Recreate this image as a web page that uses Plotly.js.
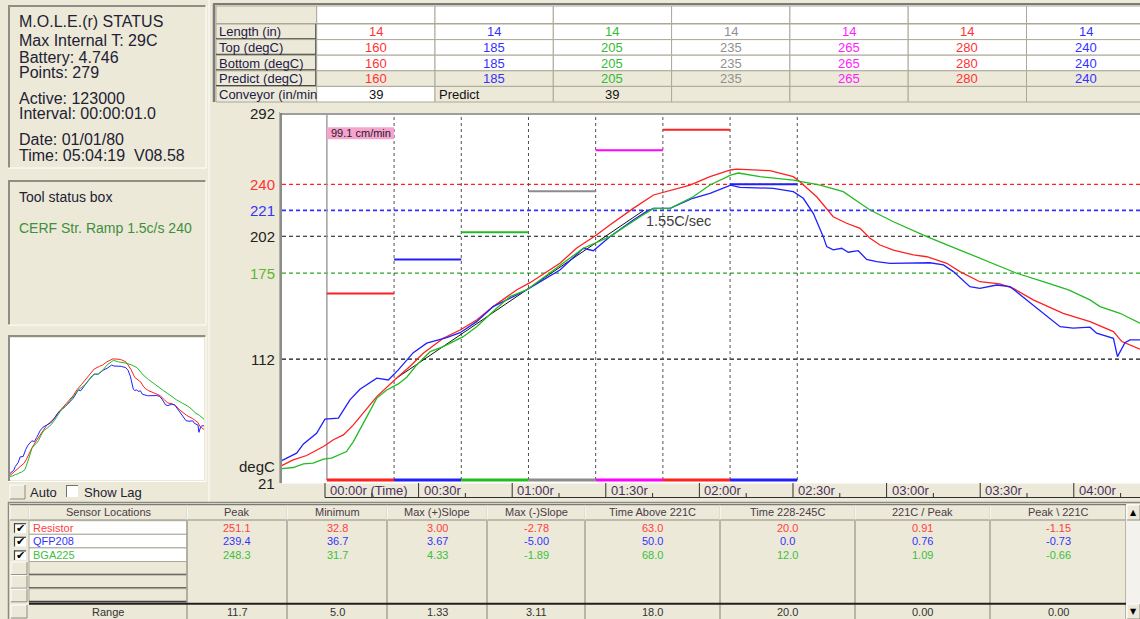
<!DOCTYPE html>
<html><head><meta charset="utf-8">
<script src="https://cdn.plot.ly/plotly-3.0.1.min.js"></script>
<style>html,body{margin:0;padding:0;background:#ECE9D8;overflow:hidden}#chart{width:1140px;height:619px}</style>
</head><body><div id="chart"></div>
<script>
// ================= DATA =================
const zoneLengthIn = [14,14,14,14,14,14,14];
const zoneTopC     = [160,185,205,235,265,280,240];
const zoneBottomC  = [160,185,205,235,265,280,240];
const zonePredictC = [160,185,205,235,265,280,240];
const conveyorInMin = 39;
const predictConveyorInMin = 39;
const zoneStartSec = 0.6;
const tableRowLabels = ['Length (in)','Top (degC)','Bottom (degC)','Predict (degC)','Conveyor (in/min'];

const statusLines = ['M.O.L.E.(r) STATUS','Max Internal T: 29C','Battery: 4.746','Points: 279',
  'Active: 123000','Interval: 00:00:01.0','Date: 01/01/80','Time: 05:04:19\u00A0 V08.58'];
const toolStatusTitle = 'Tool status box';
const toolStatusText = 'CERF Str. Ramp 1.5c/s 240';

// sensor profiles (seconds, degC)
const resistorSec = [-14.4,-10.2,-5.9,-0.5,2.7,5.9,9.1,12.3,16.6,22.9,27.2,31.5,37.9,43.3,48.6,53.9,61.4,65.7,75.3,80.6,87,91.3,98.8,105.3,112.7,117,123.4,130,131.9,142.6,150.1,152.2,157.6,162.9,167.2,171.5,174.7,177.9,182.2,188.6,192.9,199.3,203.5,209.9,216.3,220.6,227,236.6,245.2,252.7,255.4,261.2];
const resistorC   = [33.5,38.3,41.5,48.1,53,56.6,63.9,72.5,84.6,98.1,106.6,116.4,127.3,133.4,140.7,150.5,162.7,168,182.2,193.2,202.9,210.2,222.4,232.2,237.1,239.5,245.6,250.5,251.1,250,245.6,241.9,230.9,216.3,211.5,207.8,200.5,195.6,191.9,188.3,187,182.2,176.1,168.7,167.1,163.9,155.4,145.6,139.5,132.2,124.9,119.3];
const qfpSec = [-14.4,-9.1,-6.9,-2.7,0,4.3,8,11.2,16.6,20.3,23.5,28.3,32.6,39,43.3,48.6,53.9,59.3,64.6,75.3,82.8,86,91.3,98.8,103,105.3,110.6,117.9,123.4,130,133,143.7,150.1,153.3,156.5,159.7,160.8,162.9,165.6,167.7,170.9,173.6,176.8,181.1,193.9,198.2,201.4,206.7,209.9,215.3,219.6,224.9,230.2,235.6,239.8,245.2,247.3,252.7,254,256.4,258,261.2];
const qfpC   = [37.1,43.2,50,57.8,68.1,68.8,82.2,90,98.1,96.8,104.2,116.8,123.7,127.8,131.4,139.5,150.5,156.6,162.7,177.3,193.2,191.4,201.7,213.9,220,222.4,222.4,229.8,233.4,239.4,237.8,237.1,234.6,229.8,218.8,201.7,194.4,192,193.2,190.3,191.4,185.1,183.4,182.2,182.6,181,176.1,165.1,163.9,166.3,165.1,155.4,145.6,135.8,134.7,135.4,131,127.3,113.9,124.1,126.1,126.1];
const bgaSec = [-14.4,-10.2,-6.9,-3.8,-0.5,2.1,6.9,9.1,12.3,16.6,19.8,23.5,26.2,29.4,33.7,37.9,44.3,48.6,55,59.3,64.6,75.3,82.8,91.3,96.7,101,105.3,110.6,118,123.4,130,132.5,139.4,150.1,158.7,166.1,171.5,174.7,182.2,192.9,203.5,214.2,221.7,230.2,238.3,245.2,248.4,254.8,261.2];
const bgaC   = [31.7,32.7,35.4,35.9,38.8,39.6,44.4,51.7,65.2,83.5,89.5,93.9,98.8,107.8,117.5,121.2,128.5,135.8,149.3,157.8,162.7,181,193.2,201.7,210.2,216.3,222.4,222.4,230.9,239.5,246.8,248.3,245.6,243.1,239.5,234.6,226.1,221.2,212.6,201.7,191.9,182.2,174.9,168.7,162.7,155.4,150.5,145.6,138.3];

const slopeSec = [22.9,102.2];
const slopeC   = [98.1,221];

const refLevels = [240,221,202,175,112];
const yTickVals = [292,240,221,202,175,112,21];
const timeTickSec = [0,30,60,90,120,150,180,210,240];
const timeTickText = ['00:00r (Time)','00:30r','01:00r','01:30r','02:00r','02:30r','03:00r','03:30r','04:00r'];
const minorTickSec = [15,45,75,105,135,165,195,225,255];

const sensorNames = ['Resistor','QFP208','BGA225'];
const statHeaders = ['Sensor Locations','Peak','Minimum','Max (+)Slope','Max (-)Slope','Time Above 221C','Time 228-245C','221C / Peak','Peak \\ 221C'];
const peakC = [251.1,239.4,248.3];
const minimumC = [32.8,36.7,31.7];
const maxPosSlope = [3.00,3.67,4.33];
const maxNegSlope = [-2.78,-5.00,-1.89];
const timeAbove221 = [63.0,50.0,68.0];
const time228to245 = [20.0,0.0,12.0];
const ratio221Peak = [0.91,0.76,1.09];
const peak221 = [-1.15,-0.73,-0.66];
const rangeRow = ['11.7','5.0','1.33','3.11','18.0','20.0','0.00','0.00'];

// ================= STYLE / LAYOUT =================
const W=1140,H=619;
const FONT='"Liberation Sans", Arial, sans-serif';
const BEIGE='#ECE9D8', GRID='#ACA899';
const zoneColors=['#FF2020','#2020FF','#22BB22','#8C8C8C','#FF00FF','#FF2020','#2020FF'];
const zoneTextColors=['#FF3333','#3333FF','#33BB33','#909090','#FF22FF','#FF3333','#3333FF'];
const sensorColors=['#FF2020','#2020FF','#22BB22'];
const sensorTextColors=['#FF4040','#3333FF','#3CBF3C'];
const yTickColors=['#222','#FF3333','#3333FF','#222','#5CB82C','#222','#222'];
const refColors=['#FF2020','#3333FF','#111111','#22AA22','#111111'];
const refWidths=[1.2,1.8,1.2,1.2,1.2];

const px=x=>x/W, py=y=>1-y/H;
const shapes=[], ann=[];
function L(x0,y0,x1,y1,c,w,dash){shapes.push({type:'line',xref:'paper',yref:'paper',x0:px(x0),y0:py(y0),x1:px(x1),y1:py(y1),line:{color:c,width:w||1,dash:dash||'solid'},layer:'above'});}
function R(x0,y0,x1,y1,fill,lc,lw){shapes.push({type:'rect',xref:'paper',yref:'paper',x0:px(x0),y0:py(y1),x1:px(x1),y1:py(y0),fillcolor:fill,line:{color:lc||fill,width:lw===undefined?0:lw},layer:'above'});}
function T(x,y,s,o){o=o||{};ann.push({xref:'paper',yref:'paper',x:px(x),y:py(y),text:s,showarrow:false,xanchor:o.a||'left',yanchor:'middle',font:{family:o.f||FONT,size:o.s||13,color:o.c||'#222233'},borderpad:0});}
function sunken(x0,y0,x1,y1,fill){if(fill)R(x0,y0,x1,y1,fill);L(x0,y0+1,x1,y0+1,'#8E8E86',2);L(x0+1,y0,x0+1,y1,'#8E8E86',2);L(x0,y1,x1,y1,'#FFFFFF',1);L(x1,y0,x1,y1,'#FFFFFF',1);}
function raised(x0,y0,x1,y1,fill){R(x0,y0,x1,y1,fill||BEIGE);L(x0,y0,x1,y0,'#FFFFFF',1);L(x0,y0,x0,y1,'#FFFFFF',1);L(x0,y1,x1,y1,'#8C8C80',1);L(x1,y0,x1,y1,'#8C8C80',1);}

// ---------- left panels ----------
sunken(8,5,206,168,BEIGE);
const statusY=[21.7,40.7,57.3,72.3,98.3,114,139.3,155.5];
statusLines.forEach((s,i)=>T(18,statusY[i],s,{s:16}));
sunken(8,180,206,325,BEIGE);
T(18,196.7,toolStatusTitle,{s:14});
T(18,228.3,toolStatusText,{s:14,c:'#3F8F3F'});
sunken(8,335,206,481.5,null);
raised(10,485,25,499);
T(28.5,492.5,'Auto',{s:13});
R(66,485,78,497,'#FFFFFF');L(66,485.5,78,485.5,'#707070',1);L(66.5,485,66.5,497,'#707070',1);
T(83,492.5,'Show Lag',{s:13});
L(209,0,209,502,'#FFFFFF',1);

// ---------- top zone table ----------
const TX0=216, TLW=100.7, TCW=118.3, TR0=24, TRH=15.6;
L(213,4,1140,4,'#7A7A7A',2); L(214,4,214,102,'#7A7A7A',2.5);
R(TX0,6,TX0+TLW,23.5,BEIGE,GRID,1);
zoneLengthIn.forEach((z,j)=>R(TX0+TLW+j*TCW,6,TX0+TLW+(j+1)*TCW,23.5,'#FFFFFF',GRID,1));
const tableRows=[zoneLengthIn,zoneTopC,zoneBottomC,zonePredictC];
for(let i=0;i<5;i++){
  const y0=TR0+i*TRH,y1=y0+TRH,ym=(y0+y1)/2;
  R(TX0,y0,TX0+TLW,y1,BEIGE,GRID,1);
  if(i<4){L(TX0,y1-0.7,TX0+TLW,y1-0.7,'#404040',1.5);L(TX0+TLW-0.7,y0,TX0+TLW-0.7,y1,'#404040',1.5);}
  T(TX0+2,ym,tableRowLabels[i],{s:13,c:'#241a48'});
  for(let j=0;j<zoneLengthIn.length;j++){
    const cx0=TX0+TLW+j*TCW,cx1=cx0+TCW;
    const fill=i<3?'#FFFFFF':(i===3?BEIGE:(j===0?'#FFFFFF':BEIGE));
    R(cx0,y0,cx1,y1,fill,GRID,1);
    if(i<4) T((cx0+cx1)/2,ym,String(tableRows[i][j]),{a:'center',s:13,c:zoneTextColors[j]});
  }
  if(i===4){
    const c0=TX0+TLW;
    T(c0+TCW/2,ym,String(conveyorInMin),{a:'center',s:13,c:'#111'});
    T(c0+TCW+3,ym,'Predict',{s:13,c:'#111'});
    T(c0+2.5*TCW,ym,String(predictConveyorInMin),{a:'center',s:13,c:'#111'});
  }
}

// ---------- main chart ----------
const zoneSec=zoneLengthIn.map(l=>l/conveyorInMin*60);
const zoneEdges=[zoneStartSec];
zoneSec.forEach(s=>zoneEdges.push(zoneEdges[zoneEdges.length-1]+s));
const XR=[-13.78,261.22], YR=[21,292];
const XD=[px(282),1], YD=[py(483.5),py(113.3)];

refLevels.forEach((v,i)=>shapes.push({type:'line',xref:'paper',yref:'y',x0:XD[0],x1:1,y0:v,y1:v,line:{color:refColors[i],width:refWidths[i],dash:'4px,3px'},layer:'below'}));
zoneEdges.forEach((t,k)=>shapes.push({type:'line',xref:'x',yref:'paper',x0:t,x1:t,y0:py(480),y1:py(115),
  line:k===0?{color:'#A0A0A0',width:1.5}:{color:'#505050',width:1,dash:'3px,3px'},layer:'below'}));
zoneTopC.forEach((v,j)=>{
  shapes.push({type:'line',xref:'x',yref:'y',x0:zoneEdges[j],x1:zoneEdges[j+1],y0:v,y1:v,line:{color:zoneColors[j],width:2},layer:'below'});
  shapes.push({type:'rect',xref:'x',yref:'paper',x0:zoneEdges[j],x1:zoneEdges[j+1],y0:py(481.6),y1:py(478.4),fillcolor:zoneColors[j],line:{width:0},layer:'above'});
});
shapes.push({type:'rect',xref:'x',yref:'paper',x0:zoneEdges[0],x1:zoneEdges[1],y0:py(139.3),y1:py(127.3),fillcolor:'#F7A3D0',line:{width:0},layer:'above'});
ann.push({xref:'x',yref:'paper',x:zoneEdges[0],xshift:3,y:py(133.3),text:(conveyorInMin*2.54).toFixed(1)+' cm/min',showarrow:false,xanchor:'left',yanchor:'middle',font:{family:FONT,size:11,color:'#222'},borderpad:0});
const slopeRate=(slopeC[1]-slopeC[0])/(slopeSec[1]-slopeSec[0]);
ann.push({xref:'x',yref:'y',x:slopeSec[1],xshift:1,y:slopeC[1],yshift:-11,text:slopeRate.toFixed(2)+'C/sec',showarrow:false,xanchor:'left',yanchor:'middle',font:{family:FONT,size:14.5,color:'#404040'},borderpad:0});

L(279.5,112,279.5,483,'#B0B0A8',1); L(281,113,281,483,'#6E6E6E',1.5);
L(280,114,1140,114,'#7E7E7E',1.5);
yTickVals.forEach((v,i)=>ann.push({xref:'paper',yref:'y',x:px(276),y:v,text:String(v),showarrow:false,xanchor:'right',yanchor:'middle',font:{family:FONT,size:15,color:yTickColors[i]},borderpad:0}));
T(276,466.7,'degC',{a:'right',s:15,c:'#222'});
L(325,497.5,1140,497.5,'#303030',1);
timeTickSec.forEach((t,i)=>{
  shapes.push({type:'line',xref:'x',yref:'paper',x0:t,x1:t,y0:py(497.5),y1:py(483),line:{color:'#303030',width:1},layer:'above'});
  ann.push({xref:'x',yref:'paper',x:t,xshift:4,y:py(490.5),text:timeTickText[i],showarrow:false,xanchor:'left',yanchor:'middle',font:{family:FONT,size:13,color:'#4A2F5E'},borderpad:0});
});
minorTickSec.forEach(t=>shapes.push({type:'line',xref:'x',yref:'paper',x0:t,x1:t,y0:py(497.5),y1:py(493),line:{color:'#303030',width:1},layer:'above'}));

// ---------- bottom stats table ----------
const BC=[10,29,187,287,387,487,585,720,855,990,1126];
const BH0=504.7,BH1=520, BR0=520.7, BRH=13.6;
L(8,502.5,1140,502.5,'#8A8A80',1.5); L(8.5,502,8.5,619,'#8A8A80',1.5);
for(let c=0;c<BC.length-1;c++){
  raised(BC[c],BH0,BC[c+1],BH1);
  L(BC[c],BH0,BC[c+1],BH0,'#5A5A5A',1);
  if(c>0) T((BC[c]+BC[c+1])/2,(BH0+BH1)/2,statHeaders[c-1],{a:'center',s:11,c:'#4a3a4a'});
}
const statCols=[peakC.map(v=>v.toFixed(1)),minimumC.map(v=>v.toFixed(1)),maxPosSlope.map(v=>v.toFixed(2)),maxNegSlope.map(v=>v.toFixed(2)),
  timeAbove221.map(v=>v.toFixed(1)),time228to245.map(v=>v.toFixed(1)),ratio221Peak.map(v=>v.toFixed(2)),peak221.map(v=>v.toFixed(2))];
for(let i=0;i<6;i++){
  const y0=BR0+i*BRH,y1=y0+BRH,ym=(y0+y1)/2;
  if(i<3){
    R(14,y0+2.5,26,y1-1.5,'#FFFFFF');L(14,y0+3,26,y0+3,'#404040',1.2);L(14.5,y0+2.5,14.5,y1-1.5,'#404040',1.2);
    T(20,ym+0.5,'\u2714',{a:'center',s:11,c:'#000',f:'"DejaVu Sans", sans-serif'});
    R(BC[1],y0,BC[2],y1,'#FFFFFF',GRID,1);
    T(BC[1]+3,ym,sensorNames[i],{s:11,c:sensorTextColors[i]});
    statCols.forEach((col,c)=>T((BC[c+2]+BC[c+3])/2,ym,col[i],{a:'center',s:11,c:sensorTextColors[i]}));
  } else {
    raised(11,y0+0.5,27,y1-0.5);
    R(BC[1],y0,BC[2],y1,BEIGE,GRID,1);
    L(BC[1],y1-0.7,BC[2],y1-0.7,'#404040',1.5);
  }
}
for(let c=2;c<BC.length;c++) L(BC[c],BR0,BC[c],619,'#A8A498',1.5);
L(BC[1],603.8,BC[BC.length-1],603.8,'#202020',2);
raised(11,605,27,618);
T((BC[1]+BC[2])/2,611.5,'Range',{a:'center',s:11,c:'#333'});
rangeRow.forEach((s,c)=>T((BC[c+2]+BC[c+3])/2,611.5,s,{a:'center',s:11,c:'#333'}));
R(1126,504,1140,619,'#F3F2EC');
raised(1127,505,1140,520); T(1133.5,512.5,'\u25B2',{a:'center',s:8,c:'#000',f:'"DejaVu Sans", sans-serif'});
raised(1127,604,1140,619); T(1133.5,611.5,'\u25BC',{a:'center',s:8,c:'#000',f:'"DejaVu Sans", sans-serif'});

// ================= TRACES =================
const series=[[resistorSec,resistorC],[qfpSec,qfpC],[bgaSec,bgaC]];
const traces=[{x:slopeSec,y:slopeC,type:'scatter',mode:'lines',line:{color:'#111',width:1},xaxis:'x',yaxis:'y',hoverinfo:'skip'}];
series.forEach((s,i)=>traces.push({x:s[0],y:s[1],type:'scatter',mode:'lines',line:{color:sensorColors[i],width:1.3},xaxis:'x',yaxis:'y',name:sensorNames[i]}));
series.forEach((s,i)=>traces.push({x:s[0],y:s[1],type:'scatter',mode:'lines',line:{color:sensorColors[i],width:1},xaxis:'x2',yaxis:'y2',name:sensorNames[i]}));

const axBase={showgrid:false,zeroline:false,showticklabels:false,ticks:'',showline:false,fixedrange:true};
const layout={
  width:W,height:H,margin:{l:0,r:0,t:0,b:0},autosize:false,
  paper_bgcolor:BEIGE,plot_bgcolor:'#FFFFFF',showlegend:false,hovermode:false,
  xaxis:Object.assign({domain:XD,range:XR,anchor:'y'},axBase),
  yaxis:Object.assign({domain:YD,range:YR,anchor:'x'},axBase),
  xaxis2:Object.assign({domain:[px(10),px(204)],range:[-14.4,261.2],anchor:'y2'},axBase),
  yaxis2:Object.assign({domain:[py(480),py(338)],range:[25,290],anchor:'x2'},axBase),
  shapes:shapes,annotations:ann
};
Plotly.newPlot('chart',traces,layout,{staticPlot:true,displayModeBar:false});
</script></body></html>
